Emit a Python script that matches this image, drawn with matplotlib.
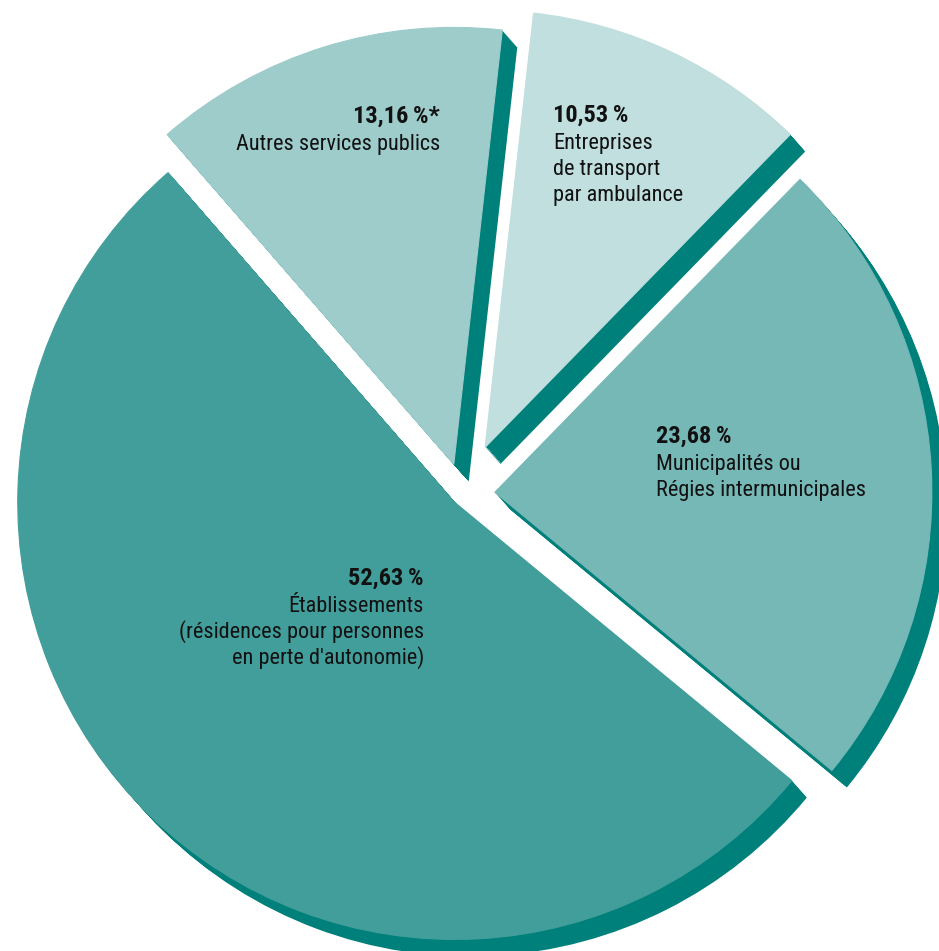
import numpy as np
import matplotlib
matplotlib.use('Agg')
import matplotlib.pyplot as plt
from matplotlib import font_manager

W, H = 939, 951

# data
categories = ['Établissements', 'Municipalités', 'Entreprises de transport', 'Autres services publics']
values = [52.63, 23.68, 10.53, 13.16]
notes = ['', '', '', '*']
descriptions = [
    ["Établissements", "(résidences pour personnes", "en perte d'autonomie)"],
    ["Municipalités ou", "Régies intermunicipales"],
    ["Entreprises", "de transport", "par ambulance"],
    ["Autres services publics"],
]

# style
colors = ['#429e9b', '#76b8b6', '#c0dfde', '#9dcccb']
shadow_color = '#00807a'
explode_frac = [0.027, 0.073, 0.118, 0.071]
R = 437
cx, cy = 463, H - 494
start = 131
shadow_dx, shadow_dy = 15, -17

# label anchor: x, baseline of first line (pixels from top), alignment
label_pos = [(424, 585, 'right'), (656, 443, 'left'), (553, 122, 'left'), (440, 123, 'right')]

# pick a narrow-ish font if one is around
installed = {f.name for f in font_manager.fontManager.ttflist}
prefs = ['Roboto Condensed', 'Liberation Sans Narrow', 'Open Sans Condensed', 'Roboto']
font = next((f for f in prefs if f in installed), 'DejaVu Sans')
fonts = [font, 'DejaVu Sans']
fsize = 16 if font in ('Roboto Condensed', 'Liberation Sans Narrow') else 14.5
bsize = fsize * 1.1

fig = plt.figure(figsize=(W / 100, H / 100), dpi=100)
ax = fig.add_axes([0, 0, 1, 1])

explode = [e * R for e in explode_frac]   # pie explode is in data units

# extruded shadow: several shifted copies behind the wedges
n = 18
for k in range(n):
    t = 1 - k / n
    ax.pie(values, explode=explode, colors=[shadow_color] * len(values),
           startangle=start, radius=R, center=(cx + shadow_dx * t, cy + shadow_dy * t),
           wedgeprops=dict(linewidth=0), normalize=True)

wedges, _ = ax.pie(values, explode=explode, colors=colors, startangle=start, radius=R,
                   center=(cx, cy), wedgeprops=dict(linewidth=0.8), normalize=True)
for w, c in zip(wedges, colors):
    w.set_edgecolor(c)   # hide the antialiased shadow seam under the edges

for v, note, desc, (x, y, ha) in zip(values, notes, descriptions, label_pos):
    pct = f"{v:.2f}".replace('.', ',') + '\u2009%' + note
    ax.text(x, H - y, pct, ha=ha, va='baseline', fontsize=bsize,
            fontweight='bold', family=fonts, color='#111111')
    yy = y + 27
    for line in desc:
        ax.text(x, H - yy, line, ha=ha, va='baseline', fontsize=fsize,
                family=fonts, color='#111111')
        yy += 26

ax.set_xlim(0, W)
ax.set_ylim(0, H)
ax.set_aspect('equal')
ax.set_axis_off()

fig.savefig('out.png', dpi=100, facecolor='white')
